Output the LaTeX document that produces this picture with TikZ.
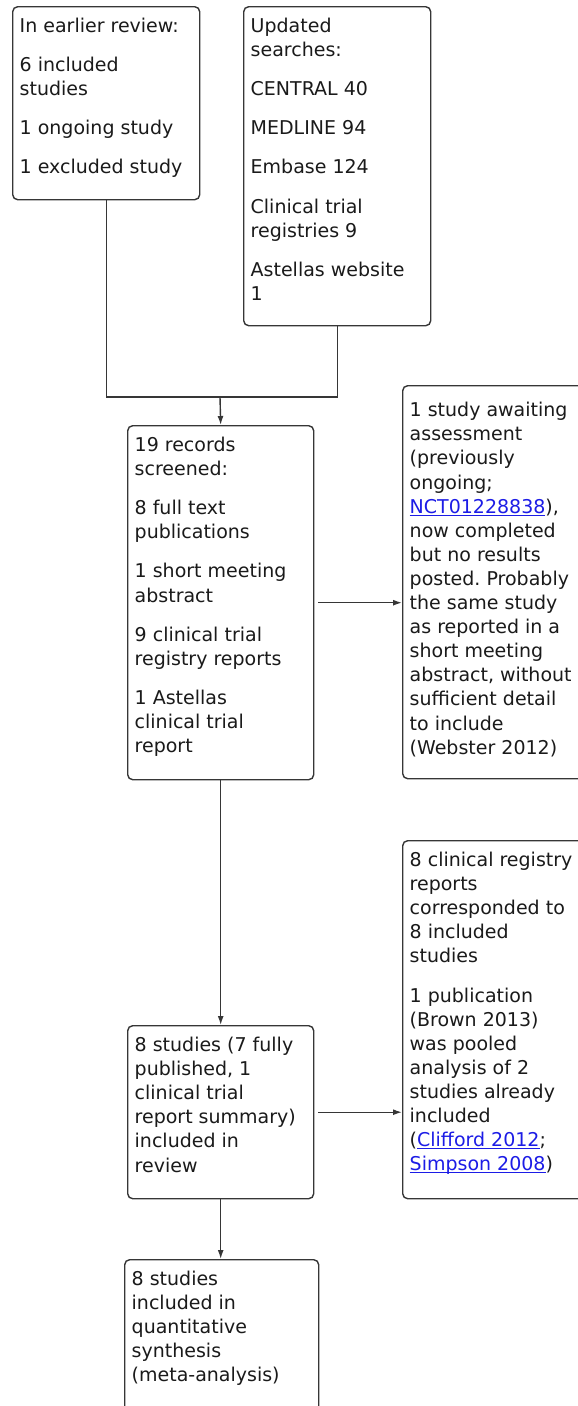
\documentclass[tikz,border=0pt]{standalone}
\usepackage{fontspec}
\setmainfont{DejaVu Sans}
\usetikzlibrary{arrows.meta}

\definecolor{boxline}{HTML}{363636}
\definecolor{linkblue}{HTML}{1C1CE6}
\definecolor{bodytext}{HTML}{1A1A1A}

\newcommand{\flowtext}[3]{\parbox[t][#2][t]{#1}{\fontsize{19}{24.1}\selectfont\frenchspacing\raggedright\strut #3}}
\newcommand{\reflink}[1]{\textcolor{linkblue}{\setbox0=\hbox{#1}\rlap{\rule[-2.4pt]{\wd0}{0.9pt}}\box0}}
\newcommand{\pargap}{\\[15pt]}

\tikzset{
  flowbox/.style = {draw=boxline, line width=1.4pt, rounded corners=5pt,
    inner xsep=7pt, inner ysep=9pt, anchor=north west, text=bodytext},
  connector/.style = {draw=boxline, line width=1.4pt},
  flowarrow/.style = {connector, -{Latex[length=9pt,width=6pt]}}
}

\begin{document}
\begin{tikzpicture}[x=1pt, y=-1pt]
    \fill[white] (0,0) rectangle (578,1406);
    \useasboundingbox (0,0) rectangle (578,1406);

    \node[flowbox] (earlier) at (12,6)
      {\flowtext{173pt}{175pt}{In earlier review:\pargap
        6 included\\studies\pargap
        1 ongoing study\pargap
        1 excluded study}};

    \node[flowbox] (updated) at (243,6)
      {\flowtext{173pt}{301pt}{Updated\\searches:\pargap
        CENTRAL 40\pargap
        MEDLINE 94\pargap
        Embase 124\pargap
        Clinical trial\\registries 9\pargap
        Astellas website\\1}};

    \node[flowbox] (screened) at (127,425)
      {\flowtext{172pt}{336pt}{19 records\\screened:\pargap
        8 full text\\publications\pargap
        1 short meeting\\abstract\pargap
        9 clinical trial\\registry reports\pargap
        1 Astellas\\clinical trial\\report}};

    \node[flowbox] (awaiting) at (402,385)
      {\flowtext{180pt}{375pt}{\rule{0pt}{22pt}1 study awaiting\\assessment\\(previously\\ongoing;\\
        \reflink{NCT01228838}),\\now completed\\but no results\\posted. Probably\\
        the same study\\as reported in a\\short meeting\\abstract, without\\
        sufficient detail\\to include\\(Webster 2012)}};

    \node[flowbox] (included) at (127,1025)
      {\flowtext{172pt}{155pt}{8 studies (7 fully\\published, 1\\clinical trial\\
        report summary)\\included in\\review}};

    \node[flowbox] (pooled) at (402,840)
      {\flowtext{180pt}{340pt}{8 clinical registry\\reports\\corresponded to\\8 included\\studies\pargap
        1 publication\\(Brown 2013)\\was pooled\\analysis of 2\\studies already\\included\\
        (\reflink{Clifford 2012};\\\reflink{Simpson 2008})}};

    \node[flowbox] (synthesis) at (124,1259)
      {\flowtext{180pt}{152pt}{8 studies\\included in\\quantitative\\synthesis\\(meta-analysis)}};

    \coordinate (merge) at (220,397);
    \draw[connector] (earlier.south) |- (merge) -| (updated.south);
    \draw[flowarrow] (merge) -- (screened.north);
    \draw[flowarrow] ([xshift=4pt]screened.east) -- (screened.east -| awaiting.west);
    \draw[flowarrow] (screened.south) -- (included.north);
    \draw[flowarrow] ([xshift=4pt]included.east) -- (included.east -| pooled.west);
    \draw[flowarrow] (included.south) -- (included.south |- synthesis.north);
\end{tikzpicture}
\end{document}
